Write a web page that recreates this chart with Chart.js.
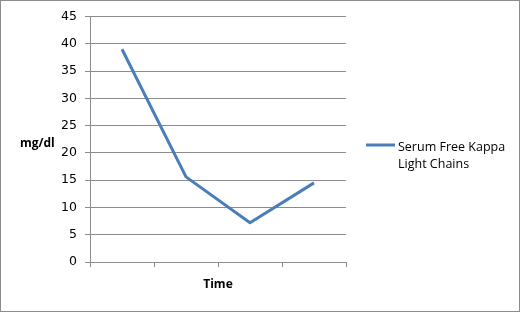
<!DOCTYPE html>
<html>
<head>
<meta charset="utf-8">
<script src="https://cdn.jsdelivr.net/npm/chart.js@4"></script>
<style>
  body { margin: 0; background: #fff; }
  #wrap { width: 518px; height: 310px; border: 1px solid #8c8c8c; }
</style>
</head>
<body>
<div id="wrap"><canvas id="line-chart" width="518" height="310"></canvas></div>
<script>
// time points are unlabeled in the original
var timePoints = ["", "", "", ""];
var kappaValues = [39, 15.6, 7.2, 14.5];
var seriesName = "Serum Free Kappa Light Chains";
var legendLines = ["Serum Free Kappa", "Light Chains"];
var yTicks = [0, 5, 10, 15, 20, 25, 30, 35, 40, 45];

var gridGrey = "#8c8c8c";
var lineBlue = "#4a7ebb";

// legend + horizontal y title, drawn by hand (excel style)
var extras = {
  id: "extras",
  afterDraw: function (chart) {
    var ctx = chart.ctx;
    var ds = chart.data.datasets[0];
    ctx.save();
    ctx.fillStyle = "#000";
    ctx.font = "bold 12px 'Open Sans'";
    ctx.textBaseline = "alphabetic";
    ctx.textAlign = "left";
    ctx.fillText("mg/dl", 19, 146);

    ctx.strokeStyle = ds.borderColor;
    ctx.lineWidth = 3;
    ctx.beginPath();
    ctx.moveTo(365, 144);
    ctx.lineTo(394, 144);
    ctx.stroke();

    ctx.font = "12.5px 'Open Sans'";
    ctx.fillText(legendLines[0], 397, 150);
    ctx.fillText(legendLines[1], 397, 167);
    ctx.restore();
  }
};

new Chart(document.getElementById("line-chart"), {
  type: "line",
  data: {
    labels: timePoints,
    datasets: [
      {
        label: seriesName,
        data: kappaValues,
        borderColor: lineBlue,
        backgroundColor: lineBlue,
        borderWidth: 3,
        borderJoinStyle: "round",
        pointRadius: 0,
        tension: 0
      }
    ]
  },
  options: {
    responsive: false,
    animation: false,
    devicePixelRatio: 1,
    layout: { padding: { top: 15, right: 173, left: 0, bottom: 0 } },
    plugins: {
      legend: { display: false },
      tooltip: { enabled: false }
    },
    scales: {
      x: {
        offset: true,
        grid: { offset: true, drawOnChartArea: false, drawTicks: true, tickLength: 5, color: gridGrey },
        border: { color: gridGrey },
        ticks: { display: false },
        title: {
          display: true,
          text: "Time",
          color: "#000",
          font: { family: "'Open Sans'", size: 12, weight: "bold" },
          padding: { top: 0, bottom: 19 }
        },
        afterFit: function (s) { s.height = 49; }
      },
      y: {
        min: 0,
        max: 45,
        afterBuildTicks: function (s) { s.ticks = yTicks.map(function (v) { return { value: v }; }); },
        grid: { color: gridGrey, tickLength: 5 },
        border: { color: gridGrey },
        ticks: {
          color: "#000",
          padding: 8,
          font: { family: "'DejaVu Sans'", size: 12.5 }
        },
        afterFit: function (s) { s.width = 89; }
      }
    }
  },
  plugins: [extras]
});
</script>
</body>
</html>
